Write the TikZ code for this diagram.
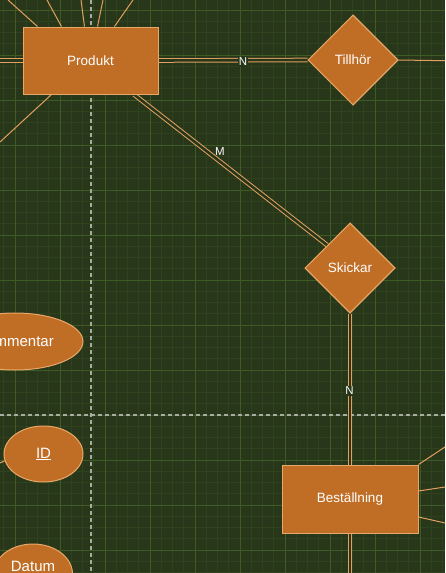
\documentclass[tikz,border=0pt]{standalone}
\usepackage{fontspec}
\setmainfont{Liberation Sans}
\usetikzlibrary{shapes.geometric}
\definecolor{bg}{HTML}{28361A}
\definecolor{gminor}{HTML}{2F421E}
\definecolor{gmajor}{HTML}{3E5A25}
\definecolor{shfill}{HTML}{C06E26}
\definecolor{shdraw}{HTML}{E8A868}
\definecolor{conncol}{HTML}{E0A060}
\definecolor{dashcol}{HTML}{A8ACA4}
\tikzset{
  entbox/.style={rectangle, draw=shdraw, fill=shfill, line width=1pt, minimum width=135pt, minimum height=67pt, text=white, font=\fontsize{13.5}{16}\selectfont, inner sep=0pt},
  relbox/.style={diamond, aspect=1, draw=shdraw, fill=shfill, line width=1pt, minimum width=90pt, minimum height=90pt, text=white, font=\fontsize{13.5}{16}\selectfont, inner sep=0pt},
  attrbox/.style={ellipse, draw=shdraw, fill=shfill, line width=1pt, minimum width=79pt, minimum height=56pt, text=white, font=\fontsize{15}{18}\selectfont, inner sep=0pt},
  conn/.style={draw=conncol, line width=1pt},
  dblconn/.style={draw=conncol, line width=1pt, double=bg, double distance=2.6pt},
  card/.style={text=white, font=\fontsize{11.5}{13}\selectfont, inner sep=1pt},
  cardfill/.style={card, fill=bg},
  guide/.style={draw=dashcol, line width=1.5pt, dash pattern=on 4pt off 3pt},
}
\begin{document}
\begin{tikzpicture}[x=1pt, y=-1pt]
\fill[bg] (0,0) rectangle (445,573);
\useasboundingbox (0,0) rectangle (445,573);
% grid
\foreach \x in {3.75,15,...,445} \draw[gminor, line width=0.6pt] (\x,0) -- (\x,573);
\foreach \y in {10,21.25,...,573} \draw[gminor, line width=0.6pt] (0,\y) -- (445,\y);
\foreach \x in {15,60,...,445} \draw[gmajor, line width=0.8pt] (\x,0) -- (\x,573);
\foreach \y in {10,55,...,573} \draw[gmajor, line width=0.8pt] (0,\y) -- (445,\y);
% guides
\coordinate (gt) at (91,0); \coordinate (gb) at (91,573);
\coordinate (gl) at (0,415); \coordinate (gr) at (445,415);
\draw[guide] (gt) -- (gb);
\draw[guide] (gl) -- (gr);
% free ends
\coordinate (t1) at (8,0);
\coordinate (t2) at (47,0);
\coordinate (t3) at (81,0);
\coordinate (t4) at (103,0);
\coordinate (t5) at (133,0);
\coordinate (lft) at (0,60.5);
\coordinate (bl) at (0,142);
\coordinate (tr) at (445,60.7);
\coordinate (bot) at (350,573);
\coordinate (r1) at (445,447);
\coordinate (r2) at (445,487);
\coordinate (r3) at (445,523);
\coordinate (idl) at (0,463);
% nodes (placed first to get anchors)
\node[entbox] (Produkt) at (90.5,60.5) {Produkt};
\node[relbox] (Tillhor) at (353,60) {Tillhör};
\node[relbox] (Skickar) at (350,268) {Skickar};
\node[entbox, minimum height=68pt, minimum width=136pt] (Best) at (350,499) {Beställning};
% connectors
\draw[conn] ([xshift=15pt]Produkt.north west) -- (t1);
\draw[conn] ([xshift=39pt]Produkt.north west) -- (t2);
\draw[conn] ([xshift=62pt]Produkt.north west) -- (t3);
\draw[conn] ([xshift=75pt]Produkt.north west) -- (t4);
\draw[conn] ([xshift=92pt]Produkt.north west) -- (t5);
\draw[conn] ([xshift=29pt]Produkt.south west) -- (bl);
\draw[dblconn] (Produkt.west) -- (lft);
\draw[dblconn] (Produkt.east) -- (Tillhor.west);
\draw[conn] (Tillhor.east) -- (tr);
\draw[dblconn] ([xshift=-24.5pt]Produkt.south east) -- (Skickar.north west);
\draw[dblconn] (Skickar.south) -- (Best.north);
\draw[dblconn] (Best.south) -- (bot);
\draw[conn] (Best.north east) -- (r1);
\draw[conn] ([yshift=8pt]Best.east) -- (r2);
\draw[conn] ([yshift=-18pt]Best.east) -- (r3);
% redraw shapes on top of connectors
\node[entbox] at (Produkt) {Produkt};
\node[relbox] at (Tillhor) {Tillhör};
\node[relbox] at (Skickar) {Skickar};
\node[entbox, minimum height=68pt, minimum width=136pt] at (Best) {Beställning};
% attributes
\node[attrbox, minimum width=136pt, minimum height=57pt] (Komm) at (15,341.5) {Kommentar};
\node[attrbox] (ID) at (43.5,454) {\underline{ID}};
\draw[conn] (idl) -- (ID.190);
\node[attrbox, minimum height=60pt, label={[attrbox, draw=none, fill=none, minimum width=0pt, minimum height=0pt, yshift=8pt]center:Datum}] (Datum) at (33,574) {};
% cardinalities
\node[cardfill] (c1) at (243,62) {N};
\node[card] (c2) at (220,152) {M};
\node[cardfill] (c3) at (349.5,391) {N};
\end{tikzpicture}
\end{document}
